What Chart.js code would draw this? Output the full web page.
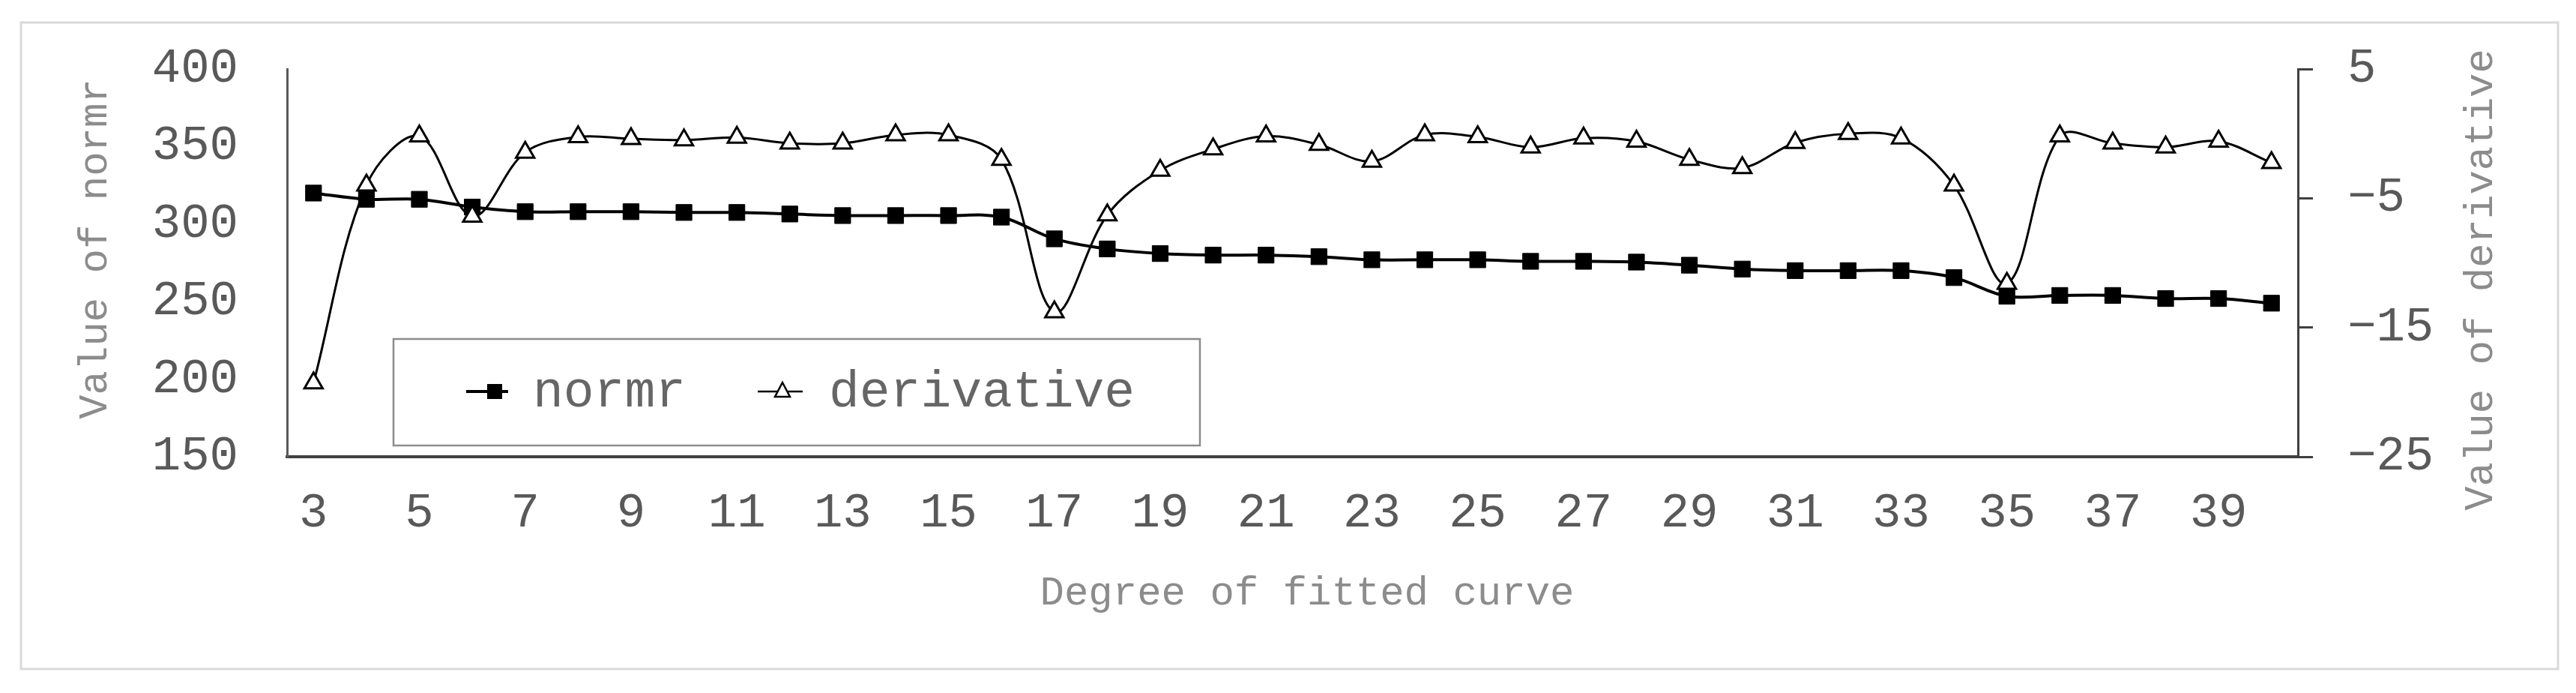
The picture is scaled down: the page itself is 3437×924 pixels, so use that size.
<!DOCTYPE html>
<html>
<head>
<meta charset="utf-8">
<title>normr and derivative vs degree of fitted curve</title>
<script src="https://cdn.jsdelivr.net/npm/chart.js@4.4.1/dist/chart.umd.min.js"></script>
<style>
  html, body { margin: 0; padding: 0; background: #fff; }
  canvas { display: block; }
</style>
</head>
<body>
<canvas id="chart" width="3437" height="924"></canvas>
<script>
// =======================
//  DATA
// =======================
const degrees = [3, 4, 5, 6, 7, 8, 9, 10, 11, 12, 13, 14, 15, 16, 17, 18, 19, 20, 21,
  22, 23, 24, 25, 26, 27, 28, 29, 30, 31, 32, 33, 34, 35, 36, 37, 38, 39, 40];

const normr = [320, 316, 316, 311, 308, 308, 308, 307.5, 307.5, 306.5, 305.5, 305.5, 305.5,
  304.5, 290.5, 284, 281, 280, 280, 279, 277, 277, 277, 276, 276, 275.5, 273.5,
  271, 270, 270, 270, 265.5, 253.5, 254, 254, 252, 252, 249];

const derivative = [-19.3, -4.0, -0.2, -6.4, -1.45, -0.25, -0.4, -0.5, -0.3, -0.75, -0.75,
  -0.1, -0.1, -2.0, -13.8, -6.3, -2.85, -1.2, -0.2, -0.85, -2.15, -0.1, -0.25, -1.05,
  -0.35, -0.6, -2.0, -2.65, -0.7, 0.0, -0.35, -4.0, -11.6, -0.2, -0.75, -1.05, -0.6, -2.25];

const normrTicks = [150, 200, 250, 300, 350, 400];
const derivTicks = [-25, -15, -5, 5];

const FONT = "'Liberation Mono', 'DejaVu Sans Mono', monospace";

// =======================
//  PLUGINS
// =======================
// white page + light frame round the whole figure
const pageFrame = {
  id: "pageFrame",
  beforeDraw(chart) {
    const ctx = chart.ctx;
    ctx.save();
    ctx.fillStyle = "#ffffff";
    ctx.fillRect(0, 0, chart.width, chart.height);
    ctx.strokeStyle = "#d9d9d9";
    ctx.lineWidth = 3;
    ctx.strokeRect(28, 30, 3385, 862);
    ctx.restore();
  }
};

// axis titles (both vertical ones read bottom-to-top)
const axisTitles = {
  id: "axisTitles",
  afterDraw(chart) {
    const ctx = chart.ctx;
    ctx.save();
    ctx.font = "54px " + FONT;
    ctx.fillStyle = "#8c8c8c";
    ctx.textAlign = "center";
    ctx.textBaseline = "alphabetic";
    ctx.fillText("Degree of fitted curve", 1744, 806);
    ctx.translate(142, 332);
    ctx.rotate(-Math.PI / 2);
    ctx.fillText("Value of normr", 0, 0);
    ctx.restore();

    ctx.save();
    ctx.font = "54px " + FONT;
    ctx.fillStyle = "#8c8c8c";
    ctx.textAlign = "center";
    ctx.translate(3325, 373);
    ctx.rotate(-Math.PI / 2);
    ctx.fillText("Value of derivative", 0, 0);
    ctx.restore();
  }
};

// boxed legend sitting inside the plot
const boxLegend = {
  id: "boxLegend",
  afterDatasetsDraw(chart) {
    const ctx = chart.ctx;
    ctx.save();
    ctx.fillStyle = "#ffffff";
    ctx.fillRect(525, 452, 1076, 142);
    ctx.strokeStyle = "#8c8c8c";
    ctx.lineWidth = 2.5;
    ctx.strokeRect(525, 452, 1076, 142);

    const cy = 522;
    // normr
    ctx.strokeStyle = "#000";
    ctx.lineWidth = 4;
    ctx.beginPath(); ctx.moveTo(622, cy); ctx.lineTo(678, cy); ctx.stroke();
    ctx.fillStyle = "#000";
    ctx.fillRect(650, cy - 10, 20, 20);

    // derivative
    ctx.lineWidth = 2.5;
    ctx.beginPath(); ctx.moveTo(1011, cy); ctx.lineTo(1071, cy); ctx.stroke();
    ctx.beginPath();
    ctx.moveTo(1044, cy - 12); ctx.lineTo(1054, cy + 7); ctx.lineTo(1034, cy + 7);
    ctx.closePath();
    ctx.fillStyle = "#fff"; ctx.fill(); ctx.stroke();

    ctx.font = "68px " + FONT;
    ctx.fillStyle = "#666666";
    ctx.textAlign = "left";
    ctx.textBaseline = "middle";
    ctx.fillText("normr", 711, cy + 2);
    ctx.fillText("derivative", 1106, cy + 2);
    ctx.restore();
  }
};

// =======================
//  CHART
// =======================
const chart = new Chart(document.getElementById("chart"), {
  type: "line",
  data: {
    labels: degrees,
    datasets: [
      {
        label: "normr", data: normr, yAxisID: "y", order: 1,
        borderColor: "#000", borderWidth: 4, tension: 0.35,
        pointStyle: "rect", pointRadius: 15,
        pointBackgroundColor: "#000", pointBorderColor: "#000", pointBorderWidth: 1
      },
      {
        label: "derivative", data: derivative, yAxisID: "y1", order: 0,
        borderColor: "#000", borderWidth: 3, tension: 0.35,
        pointStyle: "triangle", pointRadius: 14,
        pointBackgroundColor: "#fff", pointBorderColor: "#000", pointBorderWidth: 3
      }
    ]
  },
  options: {
    responsive: false,
    animation: false,
    layout: { padding: { left: 0, right: 0, top: 92, bottom: 0 } },
    plugins: { legend: { display: false }, tooltip: { enabled: false } },
    scales: {
      x: {
        type: "category", offset: true,
        grid: { display: false, drawTicks: false },
        border: { display: true, color: "#404040", width: 4 },
        ticks: {
          autoSkip: false, maxRotation: 0, padding: 38, color: "#595959",
          font: { family: FONT, size: 64 },
          callback: (value, index) => (index % 2 === 0 ? degrees[index] : "")
        },
        afterFit: (scale) => { scale.height = 315; }
      },
      y: {
        position: "left",
        min: normrTicks[0], max: normrTicks[normrTicks.length - 1],
        grid: { display: false, drawTicks: false },
        border: { display: true, color: "#595959", width: 3 },
        ticks: {
          stepSize: normrTicks[1] - normrTicks[0], padding: 65, color: "#595959",
          // small line height so the top label does not push the plot down
          font: { family: FONT, size: 64, lineHeight: 0.8 }
        },
        afterFit: (scale) => { scale.width = 383; }
      },
      y1: {
        position: "right",
        min: derivTicks[0], max: derivTicks[derivTicks.length - 1],
        grid: { drawOnChartArea: false, drawTicks: true, tickLength: 20, color: "#404040", lineWidth: 3 },
        border: { display: true, color: "#404040", width: 3 },
        ticks: {
          stepSize: derivTicks[1] - derivTicks[0], padding: 46, color: "#595959",
          font: { family: FONT, size: 64, lineHeight: 0.8 },
          callback: (v) => (v < 0 ? "\u2212" + Math.abs(v) : String(v))
        },
        afterFit: (scale) => { scale.width = 371; }
      }
    }
  },
  plugins: [pageFrame, boxLegend, axisTitles]
});
</script>
</body>
</html>
